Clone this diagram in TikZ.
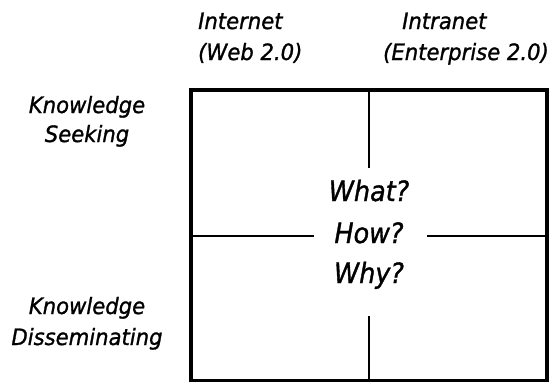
\documentclass[tikz,border=0pt]{standalone}
\usepackage{fontspec}
\setmainfont{DejaVu Sans}[FakeBold=1.2]
\newfontfamily\labelfont{DejaVu Sans}[FakeBold=1.2, FakeStretch=0.94]
\newfontfamily\questionfont{DejaVu Sans}[FakeBold=1.2, FakeStretch=0.91]
\begin{document}
\begin{tikzpicture}[x=1pt,y=-1pt,
  axislabel/.style={font=\labelfont\itshape\fontsize{22.5}{24}\selectfont, inner sep=0},
  question/.style={font=\questionfont\itshape\fontsize{28}{30}\selectfont, inner sep=0, anchor=base},
  frame/.style={draw, line width=4pt, inner sep=0, minimum width=356pt, minimum height=291pt},
  divider/.style={line width=1.3pt}]
\useasboundingbox (0,0) rectangle (558,381);

% the four-quadrant frame
\node[frame] (grid) at (369,235.5) {};

% column headings
\node[axislabel, anchor=base west] (inet) at (198,29) {Internet};
\node[axislabel, anchor=base west] (web) at (198,60) {(Web 2.0)};
\node[axislabel, anchor=base west] (itra) at (402,29) {Intranet};
\node[axislabel, anchor=base west] (ent) at (383,60) {(Enterprise 2.0)};

% row headings
\node[axislabel, anchor=base] (ks1) at (87,113) {Knowledge};
\node[axislabel, anchor=base] (ks2) at (87,142) {Seeking};
\node[axislabel, anchor=base] (kd1) at (87,314) {Knowledge};
\node[axislabel, anchor=base] (kd2) at (87,345) {Disseminating};

% central questions
\node[question] (what) at (369,201) {What?};
\node[question] (how) at (369,243) {How?};
\node[question] (why) at (369,283) {Why?};

% dividers stop short of the central text
\coordinate (gapN) at (369,168);
\coordinate (gapS) at (369,316);
\coordinate (gapW) at (314,236);
\coordinate (gapE) at (427,236);
\draw[divider] (grid.north) -- (gapN);
\draw[divider] (gapS) -- (grid.south);
\draw[divider] (grid.west |- gapW) -- (gapW);
\draw[divider] (gapE) -- (grid.east |- gapE);
\end{tikzpicture}
\end{document}
